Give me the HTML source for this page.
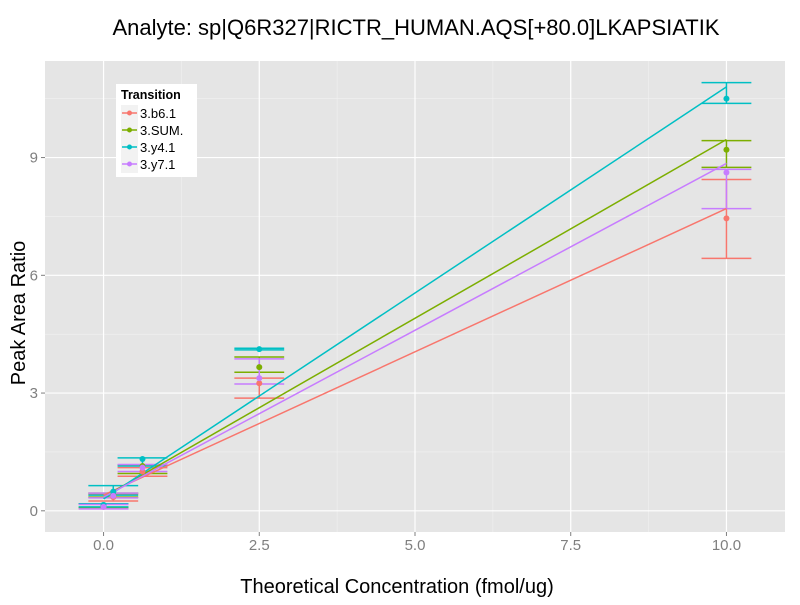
<!DOCTYPE html>
<html><head><meta charset="utf-8"><style>
body{margin:0;background:#fff;}
svg text{font-family:"Liberation Sans",sans-serif;}
</style></head><body>
<svg id="chart" width="800" height="600" xmlns="http://www.w3.org/2000/svg"></svg>
<script>
const xCats = [0, 0.156, 0.625, 2.5, 10];
const series = ["3.b6.1","3.SUM.","3.y4.1","3.y7.1"];
const colors = ["#F8766D","#7CAE00","#00BFC4","#C77CFF"];
const meanB6 = [0.10, 0.35, 1.00, 3.25, 7.45];
const lowB6  = [0.08, 0.25, 0.88, 2.87, 6.43];
const highB6 = [0.18, 0.42, 1.10, 3.38, 8.44];
const meanSUM = [0.12, 0.40, 1.14, 3.66, 9.20];
const lowSUM  = [0.08, 0.35, 0.95, 3.53, 8.75];
const highSUM = [0.18, 0.45, 1.17, 3.92, 9.43];
const meanY4 = [0.15, 0.49, 1.32, 4.12, 10.50];
const lowY4  = [0.10, 0.40, 1.14, 4.10, 10.38];
const highY4 = [0.18, 0.64, 1.35, 4.14, 10.91];
const meanY7 = [0.10, 0.38, 1.10, 3.38, 8.62];
const lowY7  = [0.05, 0.33, 1.00, 3.23, 7.70];
const highY7 = [0.16, 0.45, 1.18, 3.87, 8.70];
const fitIntercept = [0.40, 0.35, 0.30, 0.35];
const fitSlope = [0.730, 0.911, 1.050, 0.850];
const xTicks = [0, 2.5, 5, 7.5, 10];
const xTickLabels = ["0.0","2.5","5.0","7.5","10.0"];
const yTicks = [0, 3, 6, 9];
const yTickLabels = ["0","3","6","9"];

const means=[meanB6,meanSUM,meanY4,meanY7], lows=[lowB6,lowSUM,lowY4,lowY7], highs=[highB6,highSUM,highY4,highY7];
const L=45,R=785,T=61,B=532;
const xmin=-0.94,xmax=10.94,ymin=-0.54,ymax=11.46;
const X=v=>L+(v-xmin)/(xmax-xmin)*(R-L);
const Y=v=>B-(v-ymin)/(ymax-ymin)*(B-T);
const svg=document.getElementById('chart');
const NS='http://www.w3.org/2000/svg';
function mk(tag,attrs,parent){const e=document.createElementNS(NS,tag);for(const k in attrs)e.setAttribute(k,attrs[k]);(parent||svg).appendChild(e);return e;}

let e=mk('rect',{x:L,y:T,width:R-L,height:B-T,fill:'#E5E5E5'});


for(let i=0;i<xTicks.length-1;i++){const v=(xTicks[i]+xTicks[i+1])/2;mk('line',{x1:X(v),x2:X(v),y1:T,y2:B,stroke:'#F2F2F2','stroke-width':0.6});}
for(let i=0;i<yTicks.length;i++){const v=yTicks[i]+1.5;mk('line',{x1:L,x2:R,y1:Y(v),y2:Y(v),stroke:'#F2F2F2','stroke-width':0.6});}
xTicks.forEach((v,i)=>{
 mk('line',{x1:X(v),x2:X(v),y1:T,y2:B,stroke:'#fff','stroke-width':1.2});
 mk('line',{x1:X(v),x2:X(v),y1:B,y2:B+4,stroke:'#7F7F7F','stroke-width':1});
 const t=mk('text',{x:X(v),y:B+18,'text-anchor':'middle','font-size':15,fill:'#7F7F7F'});t.textContent=xTickLabels[i];
 
 
});
yTicks.forEach((v,i)=>{
 mk('line',{x1:L,x2:R,y1:Y(v),y2:Y(v),stroke:'#fff','stroke-width':1.2});
 mk('line',{x1:L-4,x2:L,y1:Y(v),y2:Y(v),stroke:'#7F7F7F','stroke-width':1});
 const t=mk('text',{x:L-7,y:Y(v)+5,'text-anchor':'end','font-size':15,fill:'#7F7F7F'});t.textContent=yTickLabels[i];
 
 
});
const hw=0.4;
series.forEach((s,si)=>{
 const g=mk('g',{stroke:colors[si],'stroke-width':1.5});
 
 
 xCats.forEach((xv,i)=>{
  mk('line',{x1:X(xv),x2:X(xv),y1:Y(lows[si][i]),y2:Y(highs[si][i])},g);
  mk('line',{x1:X(xv-hw),x2:X(xv+hw),y1:Y(lows[si][i]),y2:Y(lows[si][i])},g);
  mk('line',{x1:X(xv-hw),x2:X(xv+hw),y1:Y(highs[si][i]),y2:Y(highs[si][i])},g);
 });
});
series.forEach((s,si)=>{
 const x0=xCats[0],x1=xCats[xCats.length-1];
 const l=mk('line',{x1:X(x0),y1:Y(fitIntercept[si]+fitSlope[si]*x0),x2:X(x1),y2:Y(fitIntercept[si]+fitSlope[si]*x1),stroke:colors[si],'stroke-width':1.5});
 
 
});
series.forEach((s,si)=>{
 xCats.forEach((xv,i)=>{
  const c=mk('circle',{cx:X(xv),cy:Y(means[si][i]),r:3,fill:colors[si]});
  
  
 });
});
const lg=mk('g',{});


mk('rect',{x:116,y:84,width:81,height:93,fill:'#fff'},lg);
let tt=mk('text',{x:121,y:99,'font-size':12.5,'font-weight':'bold',fill:'#000'},lg);tt.textContent='Transition';
series.forEach((s,si)=>{
 const yy=113+si*17;
 const en=mk('g',{},lg);
 
 
 mk('rect',{x:121,y:yy-8,width:17,height:17,fill:'#F2F2F2'},en);
 mk('line',{x1:122,x2:137,y1:yy,y2:yy,stroke:colors[si],'stroke-width':1.5},en);
 mk('circle',{cx:129.5,cy:yy,r:2.5,fill:colors[si]},en);
 const t=mk('text',{x:140,y:yy+5,'font-size':13,fill:'#000'},en);t.textContent=s;
});
let ti=mk('text',{x:416,y:35,'text-anchor':'middle','font-size':22,fill:'#000'});ti.textContent='Analyte: sp|Q6R327|RICTR_HUMAN.AQS[+80.0]LKAPSIATIK';


let xt=mk('text',{x:397,y:593,'text-anchor':'middle','font-size':20,fill:'#000'});xt.textContent='Theoretical Concentration (fmol/ug)';


let yt=mk('text',{x:0,y:0,'text-anchor':'middle','font-size':20,fill:'#000',transform:'translate(25,313) rotate(-90)'});yt.textContent='Peak Area Ratio';


</script>
</body></html>
